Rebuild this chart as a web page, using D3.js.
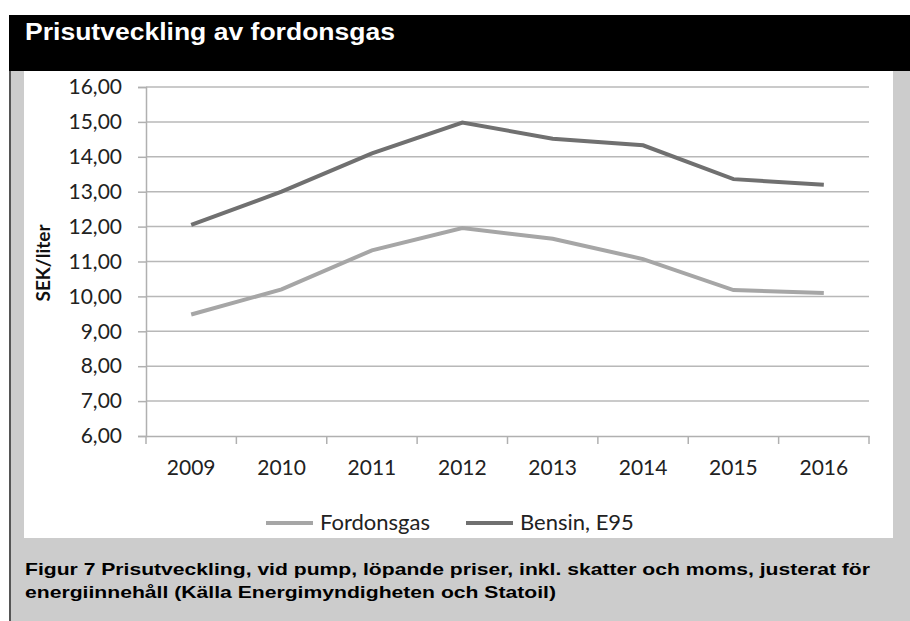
<!DOCTYPE html>
<html><head><meta charset="utf-8">
<script src="https://cdn.jsdelivr.net/npm/d3@7"></script>
<style>body{margin:0;background:#fff}svg{display:block}</style>
</head><body>
<svg id="c" width="910" height="621"></svg>
<script>
const years = ["2009","2010","2011","2012","2013","2014","2015","2016"];
const fordonsgas = [9.48, 10.2, 11.32, 11.96, 11.65, 11.07, 10.18, 10.1];
const bensin = [12.05, 13.0, 14.1, 14.98, 14.52, 14.33, 13.36, 13.2];
const yTicks = [6,7,8,9,10,11,12,13,14,15,16];
const seriesNames = ["Fordonsgas", "Bensin, E95"];
const title = "Prisutveckling av fordonsgas";
const yTitle = "SEK/liter";
const caption = ["Figur 7 Prisutveckling, vid pump, löpande priser, inkl. skatter och moms, justerat för",
                 "energiinnehåll (Källa Energimyndigheten och Statoil)"];

const svg = d3.select("#c");
// panels
svg.append("rect").attr("x",9).attr("y",15).attr("width",901).attr("height",56).attr("fill","#000");
svg.append("rect").attr("x",9).attr("y",71).attr("width",901).attr("height",550).attr("fill","#cccccc");
svg.append("rect").attr("x",9).attr("y",71).attr("width",2).attr("height",550).attr("fill","#555");
svg.append("rect").attr("x",24).attr("y",71).attr("width",869).attr("height",467).attr("fill","#fff");

svg.append("text").attr("x",25).attr("y",40).attr("fill","#fff")
  .attr("font-family","Liberation Sans, Arial").attr("font-weight","bold").attr("font-size",23)
  .attr("textLength",370).attr("lengthAdjust","spacingAndGlyphs")
  .text(title);

const x = d3.scaleBand().domain(years).range([146,869]);
const y = d3.scaleLinear().domain([6,16]).range([436,87]);
const font = "Lato, Open Sans, sans-serif";

// gridlines
svg.append("g").selectAll("line").data(yTicks.slice(1)).join("line")
  .attr("x1",146).attr("x2",869).attr("y1",d=>y(d)).attr("y2",d=>y(d))
  .attr("stroke","#b8b8b8").attr("stroke-width",1.5);

// y axis
const ya = svg.append("g").attr("transform","translate(146,0)")
  .call(d3.axisLeft(y).tickValues(yTicks).tickSize(8).tickPadding(16)
    .tickFormat(d=>d3.format(".2f")(d).replace(".",",")));
ya.select(".domain").attr("stroke","#b0b0b0").attr("stroke-width",1.5);
ya.selectAll(".tick line").attr("stroke","#b0b0b0").attr("stroke-width",1.5);
ya.selectAll(".tick text").attr("font-family",font).attr("font-size",21).attr("fill","#222");

// x axis
const xa = svg.append("g").attr("transform","translate(0,436)")
  .call(d3.axisBottom(x).tickSize(0).tickPadding(24));
xa.select(".domain").attr("stroke","#b0b0b0").attr("stroke-width",1.5);
xa.selectAll(".tick text").attr("font-family",font).attr("font-size",21).attr("fill","#222");
xa.append("g").selectAll("line").data(years.concat(["end"])).join("line")
  .attr("x1",(d,i)=>146+i*x.step()).attr("x2",(d,i)=>146+i*x.step())
  .attr("y1",0).attr("y2",8).attr("stroke","#b0b0b0").attr("stroke-width",1.5);

// y title
svg.append("text").attr("transform","translate(50,263) rotate(-90)")
  .attr("text-anchor","middle").attr("font-family",font).attr("font-weight","bold")
  .attr("font-size",19).attr("fill","#111").text(yTitle);

// lines
const line = d3.line().x((d,i)=>x(years[i])+x.bandwidth()/2).y(d=>y(d));
const colors = ["#a6a6a6","#707070"];
[fordonsgas, bensin].forEach((s,k)=>{
  svg.append("path").datum(s).attr("d",line).attr("fill","none")
    .attr("stroke",colors[k]).attr("stroke-width",4);
});

// legend
const lg = [{x1:266,x2:313,tx:320},{x1:466,x2:513,tx:520}];
lg.forEach((p,k)=>{
  svg.append("line").attr("x1",p.x1).attr("x2",p.x2).attr("y1",523).attr("y2",523)
    .attr("stroke",colors[k]).attr("stroke-width",4);
  svg.append("text").attr("x",p.tx).attr("y",530).attr("font-family",font)
    .attr("font-size",22).attr("fill","#222").text(seriesNames[k]);
});

// caption (horizontally stretched like the reference)
const capLen = [845, 531];
caption.forEach((c,i)=>{
  svg.append("text").attr("x",25).attr("y",575+i*23).attr("font-family","Liberation Sans, Arial")
    .attr("font-weight","bold").attr("font-size",17).attr("fill","#000")
    .attr("textLength",capLen[i]).attr("lengthAdjust","spacingAndGlyphs").text(c);
});
</script>
</body></html>
